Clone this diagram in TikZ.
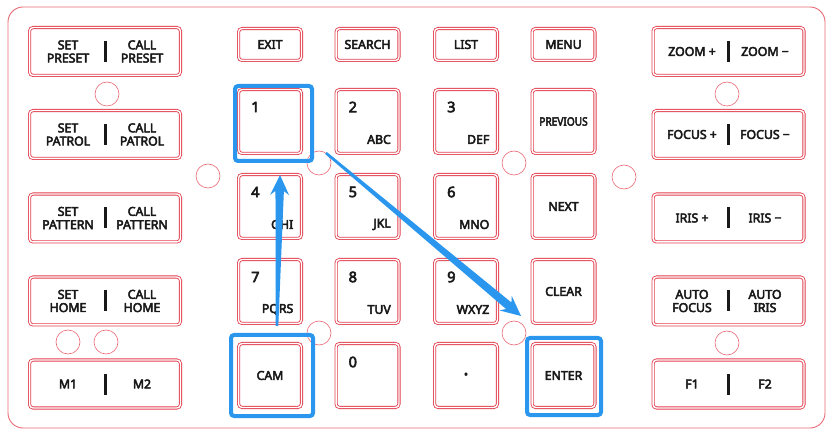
\documentclass[tikz,border=0pt]{standalone}
\usepackage{fontspec}
\usetikzlibrary{calc}
\newfontfamily\kf{Noto Sans}[FakeBold=4]
\definecolor{kred}{RGB}{226,64,78}
\definecolor{kframe}{RGB}{232,104,116}
\definecolor{kblue}{RGB}{42,150,238}
\definecolor{ktext}{RGB}{25,25,25}
\tikzset{
 btn/.style={draw=kred, double=white, double distance=1.4pt, line width=0.85pt, rounded corners=3.5pt, inner sep=0pt},
 topbtn/.style={btn, minimum width=62.9pt, minimum height=31.9pt},
 numbtn/.style={btn, minimum width=62.9pt, minimum height=63.9pt},
 widebtn/.style={btn, minimum width=150.9pt, minimum height=47.9pt},
 lbl/.style={text=ktext, font=\kf\fontsize{12.3}{13.2}\selectfont, inner sep=0pt, align=center},
 dig/.style={text=ktext, font=\kf\fontsize{14.5}{15}\selectfont, inner sep=0pt, anchor=west},
 lett/.style={lbl, anchor=east},
 bar/.style={fill=black!90, minimum width=3pt, minimum height=21pt, inner sep=0pt},
 hole/.style={circle, draw=kframe, line width=0.6pt, minimum size=24pt, inner sep=0pt},
 hl/.style={draw=kblue, line width=4pt, rounded corners=3pt, inner sep=0pt},
}
\newcommand\wkey[6]{%
 \node[widebtn] (#1) at (#2,#3) {};
 \node[bar] (#1bar) at (#2,#3) {};
 \node[lbl] (#1l) at (#2-#6,#3) {#4};
 \node[lbl] (#1r) at (#2+#6,#3) {#5};
}
\newcommand\nkey[5]{%
 \node[numbtn] (#1) at (#2,#3) {};
 \node[dig] (#1d) at (#2-19,#3-14.5) {#4};
 \node[lett] (#1t) at (#2+23.5,#3+18) {#5};
}
\newcommand\taper[2]{%
 \coordinate (#1h) at ($(#2)!16pt!(#1)$);
 \coordinate (#1b) at ($(#2)!20pt!(#1)$);
 \fill[kblue] ($(#1)!1.3pt!90:(#2)$) -- ($(#1h)!4.2pt!90:(#2)$) -- ($(#1b)!9.5pt!90:(#2)$) -- (#2)
   -- ($(#1b)!9.5pt!-90:(#2)$) -- ($(#1h)!4.2pt!-90:(#2)$) -- ($(#1)!1.3pt!-90:(#2)$) -- cycle;
}
\begin{document}
\begin{tikzpicture}[x=1pt,y=-1pt]
\useasboundingbox (0,0) rectangle (835,435);
\draw[kframe, line width=0.9pt, rounded corners=15pt] (8,7) rectangle (825,428);
% holes
\node[hole] (h1) at (107,94) {};
\node[hole] (h2) at (68,342) {};
\node[hole] (h3) at (106,342) {};
\node[hole] (h4) at (727,94) {};
\node[hole] (h5) at (727,343) {};
\node[hole] (h6) at (208,176) {};
\node[hole] (h7) at (624,177) {};
\node[hole] (h8) at (319,163) {};
\node[hole] (h9) at (514,163) {};
\node[hole] (h10) at (319,333) {};
\node[hole] (h11) at (514,333) {};
% left column
\wkey{preset}{105}{51.5}{SET\\PRESET}{CALL\\PRESET}{37}
\wkey{patrol}{105}{134.5}{SET\\PATROL}{CALL\\PATROL}{37}
\wkey{pattern}{105}{218}{SET\\PATTERN}{CALL\\PATTERN}{37}
\wkey{home}{105}{301}{SET\\HOME}{CALL\\HOME}{37}
\wkey{mm}{105}{384}{M1}{M2}{37}
% right column
\wkey{zoom}{728.5}{51.5}{ZOOM +}{ZOOM −}{36.5}
\wkey{focus}{728.5}{134.5}{FOCUS +}{FOCUS −}{36.5}
\wkey{iris}{728.5}{218}{IRIS +}{IRIS −}{36.5}
\wkey{auto}{728.5}{301}{AUTO\\FOCUS}{AUTO\\IRIS}{36.5}
\wkey{ff}{728.5}{384}{F1}{F2}{36.5}
% top row
\node[topbtn] (exit) at (270,44.5) {}; \node[lbl] (exitt) at (exit) {EXIT};
\node[topbtn] (search) at (367.5,44.5) {}; \node[lbl] (searcht) at (search) {SEARCH};
\node[topbtn] (list) at (466,44.5) {}; \node[lbl] (listt) at (list) {LIST};
\node[topbtn] (menu) at (563.5,44.5) {}; \node[lbl] (menut) at (menu) {MENU};
% keypad
\node[numbtn] (k1) at (270,121.5) {}; \node[dig] (k1d) at (251,107) {1};
\nkey{k2}{367.5}{121.5}{2}{ABC}
\nkey{k3}{466}{121.5}{3}{DEF}
\node[numbtn] (prev) at (563.5,121.5) {}; \node[lbl] (prevt) at (prev) {\scalebox{0.88}[1]{\fontsize{11.5}{12}\selectfont PREVIOUS}};
\nkey{k4}{270}{206.5}{4}{GHI}
\nkey{k5}{367.5}{206.5}{5}{JKL}
\nkey{k6}{466}{206.5}{6}{MNO}
\node[numbtn] (next) at (563.5,206.5) {}; \node[lbl] (nextt) at (next) {NEXT};
\nkey{k7}{270}{291.5}{7}{PQRS}
\nkey{k8}{367.5}{291.5}{8}{TUV}
\nkey{k9}{466}{291.5}{9}{WXYZ}
\node[numbtn] (clear) at (563.5,291.5) {}; \node[lbl] (cleart) at (clear) {CLEAR};
\node[numbtn] (cam) at (270,375.5) {}; \node[lbl] (camt) at (cam) {CAM};
\node[numbtn] (k0) at (367.5,375.5) {}; \node[dig] (k0d) at (348.5,362) {0};
\node[numbtn] (dot) at (466,375.5) {}; \node[lbl, font=\kf\fontsize{11}{11}\selectfont] (dott) at (dot) {•};
\node[numbtn] (enter) at (563.5,375.5) {}; \node[lbl] (entert) at (enter) {ENTER};
% highlights
\node[hl, minimum width=77pt, minimum height=75pt] (hl1) at (273.5,123.5) {};
\node[hl, minimum width=82pt, minimum height=81pt] (hlcam) at (272,375.5) {};
\node[hl, minimum width=74pt, minimum height=77pt] (hlent) at (564,376.5) {};
% arrows
\coordinate (a1s) at (277,326); \coordinate (a1t) at (280,175);
\coordinate (a2s) at (326,153); \coordinate (a2t) at (521,316);
\taper{a1s}{a1t}
\taper{a2s}{a2t}
\end{tikzpicture}
\end{document}
